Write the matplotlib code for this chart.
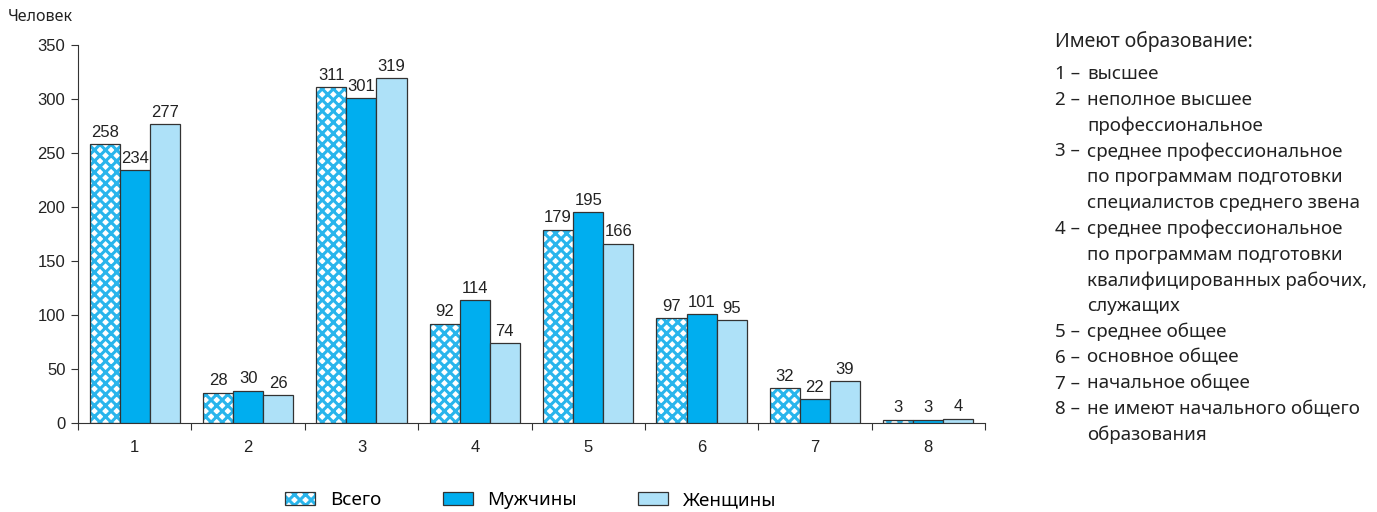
import matplotlib
matplotlib.use("Agg")
import matplotlib.pyplot as plt
import numpy as np
from matplotlib.patches import Patch
from matplotlib.legend_handler import HandlerTuple

categories = ["1", "2", "3", "4", "5", "6", "7", "8"]
vsego = [258, 28, 311, 92, 179, 97, 32, 3]
muzh = [234, 30, 301, 114, 195, 101, 22, 3]
zhen = [277, 26, 319, 74, 166, 95, 39, 4]
series_names = ["Всего", "Мужчины", "Женщины"]
yticks = [0, 50, 100, 150, 200, 250, 300, 350]

side_title = "Имеют образование:"
side_items = [
    ("1", ["высшее"]),
    ("2", ["неполное высшее", "профессиональное"]),
    ("3", ["среднее профессиональное", "по программам подготовки", "специалистов среднего звена"]),
    ("4", ["среднее профессиональное", "по программам подготовки", "квалифицированных рабочих,", "служащих"]),
    ("5", ["среднее общее"]),
    ("6", ["основное общее"]),
    ("7", ["начальное общее"]),
    ("8", ["не имеют начального общего", "образования"]),
]

HATCH_BLUE = "#29B5EC"
MALE = "#00AEEF"
FEMALE = "#AEE1F8"
EDGE = "#333333"
TXT = "#222222"
num_font = "Liberation Sans"
txt_font = "Noto Sans"

plt.rcParams["hatch.linewidth"] = 2.2

fig = plt.figure(figsize=(13.77, 5.12), dpi=100)
ax = fig.add_axes([78/1377, 89/512, 907/1377, 378/512])

x = np.arange(len(categories))
w = 0.265
# hatched "Всего"
ax.bar(x - w, vsego, w, color="white", edgecolor=HATCH_BLUE, hatch="xxx", linewidth=0, zorder=2)
ax.bar(x - w, vsego, w, facecolor="none", edgecolor=EDGE, linewidth=0.9, zorder=3)
ax.bar(x, muzh, w, color=MALE, edgecolor=EDGE, linewidth=0.9, zorder=3)
ax.bar(x + w, zhen, w, color=FEMALE, edgecolor=EDGE, linewidth=0.9, zorder=3)

for off, vals in [(-w, vsego), (0, muzh), (w, zhen)]:
    for xi, v in zip(x, vals):
        ax.text(xi + off, v + 4, str(v), ha="center", va="bottom",
                fontsize=12, family=num_font, color=TXT)

ax.set_xlim(-0.5, len(categories) - 0.5)
ax.set_ylim(0, 350)
ax.set_yticks(yticks)
ax.set_yticklabels([str(t) for t in yticks], family=num_font, fontsize=12, color=TXT)
ax.set_xticks(x)
ax.set_xticklabels(categories, family=num_font, fontsize=12, color=TXT)
ax.set_xticks(np.arange(-0.5, len(categories)), minor=True)
ax.tick_params(axis="x", which="major", length=0, pad=12)
ax.tick_params(axis="x", which="minor", length=5, direction="out", width=0.8, color=EDGE)
ax.tick_params(axis="y", length=5, direction="out", width=0.8, color=EDGE, pad=4)
for s in ["top", "right"]:
    ax.spines[s].set_visible(False)
for s in ["left", "bottom"]:
    ax.spines[s].set_color(EDGE)
    ax.spines[s].set_linewidth(0.8)

fig.text(8/1377, 1 - 17/512, "Человек", family=txt_font, fontsize=11.5, color=TXT, va="center", ha="left")

# side text
fig.text(1055/1377, 1 - 42/512, side_title, family=txt_font, fontsize=14, color=TXT, va="center", ha="left")
line_h = 25.8
yy = 74
for num, lines in side_items:
    for i, ln in enumerate(lines):
        if i == 0:
            fig.text(1055/1377, 1 - yy/512, num + " –", family=txt_font, fontsize=13.5, color=TXT, va="center", ha="left")
        fig.text(1087/1377, 1 - yy/512, ln, family=txt_font, fontsize=13.5, color=TXT, va="center", ha="left")
        yy += line_h

h_all = (Patch(facecolor="white", edgecolor=HATCH_BLUE, hatch="xxx", linewidth=0),
         Patch(facecolor="none", edgecolor=EDGE, linewidth=0.9))
h_m = Patch(facecolor=MALE, edgecolor=EDGE, linewidth=0.9)
h_f = Patch(facecolor=FEMALE, edgecolor=EDGE, linewidth=0.9)
fig.legend([h_all, h_m, h_f], series_names, handler_map={tuple: HandlerTuple(ndivide=1, pad=0)},
           loc="center", bbox_to_anchor=(531/1377, 1 - 500/512), ncol=3, frameon=False,
           prop={"family": txt_font, "size": 13.5}, handlelength=1.6, handleheight=0.75,
           handletextpad=0.8, columnspacing=3.25, borderpad=0)

fig.savefig("out.png", dpi=100)
